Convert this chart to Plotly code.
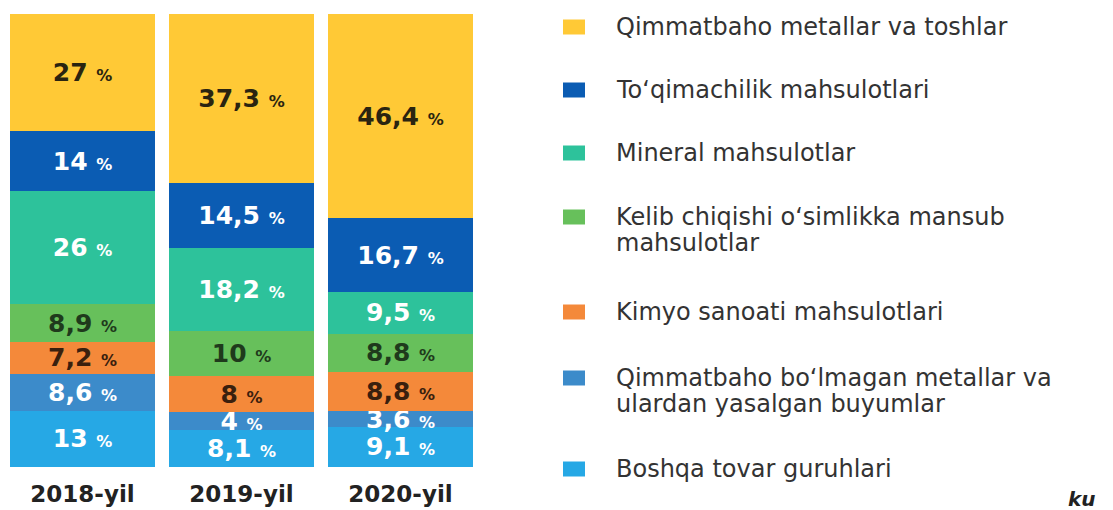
import plotly.graph_objects as go

# ---- data ----
years = ["2018-yil", "2019-yil", "2020-yil"]

categories = [
    "Qimmatbaho metallar va toshlar",
    "To‘qimachilik mahsulotlari",
    "Mineral mahsulotlar",
    "Kelib chiqishi o‘simlikka mansub mahsulotlar",
    "Kimyo sanoati mahsulotlari",
    "Qimmatbaho bo‘lmagan metallar va ulardan yasalgan buyumlar",
    "Boshqa tovar guruhlari",
]

qimmatbaho_metallar = [27, 37.3, 46.4]
toqimachilik = [14, 14.5, 16.7]
mineral = [26, 18.2, 9.5]
kelib_chiqishi = [8.9, 10, 8.8]
kimyo = [7.2, 8, 8.8]
nodir_bolmagan_metallar = [8.6, 4, 3.6]
boshqa = [13, 8.1, 9.1]

# legend lines (wrapped as in the original)
legend_lines = [
    ["Qimmatbaho metallar va toshlar"],
    ["To‘qimachilik mahsulotlari"],
    ["Mineral mahsulotlar"],
    ["Kelib chiqishi o‘simlikka mansub", "mahsulotlar"],
    ["Kimyo sanoati mahsulotlari"],
    ["Qimmatbaho bo‘lmagan metallar va", "ulardan yasalgan buyumlar"],
    ["Boshqa tovar guruhlari"],
]

# ---- style ----
colors = ["#FFC936", "#0B5CB3", "#2DC29B", "#67C05B", "#F4893A", "#3C8BCA", "#26A8E5"]
text_colors = ["#2a2410", "#ffffff", "#ffffff", "#1f3a1c", "#3a200e", "#ffffff", "#ffffff"]

series = [qimmatbaho_metallar, toqimachilik, mineral, kelib_chiqishi, kimyo,
          nodir_bolmagan_metallar, boshqa]

OFF = 8  # browser body margin
W, H = 1113 - OFF, 510 - OFF
ML, MR, MT, MB = 0, 633, 6, 43
PW, PH = W - ML - MR, H - MT - MB
SLOT = 159.0  # pixels per category
X0 = -(82.5 - OFF - ML) / SLOT


def px(x):  # reference pixel x -> paper
    return (x - OFF - ML) / PW


def py(y):  # reference pixel y -> paper
    return (H - MB - (y - OFF)) / PH


def fmt(v):
    s = f"{v:g}".replace(".", ",")
    return f"<b>{s} <span style='font-size:16px'>%</span></b>"


fig = go.Figure()
# stack from bottom (last category) to top (first category)
for i in reversed(range(len(categories))):
    vals = series[i]
    fig.add_trace(go.Bar(
        x=years,
        y=vals,
        name=categories[i],
        marker=dict(color=colors[i], line=dict(width=0)),
        text=[fmt(v) for v in vals],
        textposition="inside",
        insidetextanchor="middle",
        textangle=0,
        textfont=dict(family="DejaVu Sans", size=25, color=text_colors[i]),
        showlegend=False,
    ))

# hand-built legend
sq_y = [27, 90, 153, 217, 312, 378, 469]
for i, lines in enumerate(legend_lines):
    c = sq_y[i]
    fig.add_shape(type="rect", xref="paper", yref="paper",
                  x0=px(563), x1=px(585), y0=py(c + 7.5), y1=py(c - 7.5),
                  fillcolor=colors[i], line=dict(width=0))
    for j, line in enumerate(lines):
        fig.add_annotation(xref="paper", yref="paper", x=px(614), y=py(c + 26 * j),
                           xanchor="left", yanchor="middle", showarrow=False,
                           text=line,
                           font=dict(family="DejaVu Sans", size=24, color="#333333"))

fig.add_annotation(xref="paper", yref="paper", x=px(1066), y=py(499),
                   xanchor="left", yanchor="middle", showarrow=False,
                   text="<b><i>ku</i></b>",
                   font=dict(family="DejaVu Sans", size=20, color="#222222"))

fig.update_layout(
    width=W, height=H,
    margin=dict(l=ML, r=MR, t=MT, b=MB),
    barmode="stack",
    barnorm="percent",
    bargap=1 - 145 / SLOT,
    paper_bgcolor="white",
    plot_bgcolor="white",
    uniformtext=dict(minsize=25, mode="show"),
    xaxis=dict(showgrid=False, zeroline=False, showline=False, ticks="",
               range=[X0, X0 + PW / SLOT],
               tickfont=dict(family="DejaVu Sans", size=23, color="#222222",
                             weight="bold"),
               ticklabelstandoff=11),
    yaxis=dict(visible=False, range=[0, 100]),
)

fig.write_html("out.html")
